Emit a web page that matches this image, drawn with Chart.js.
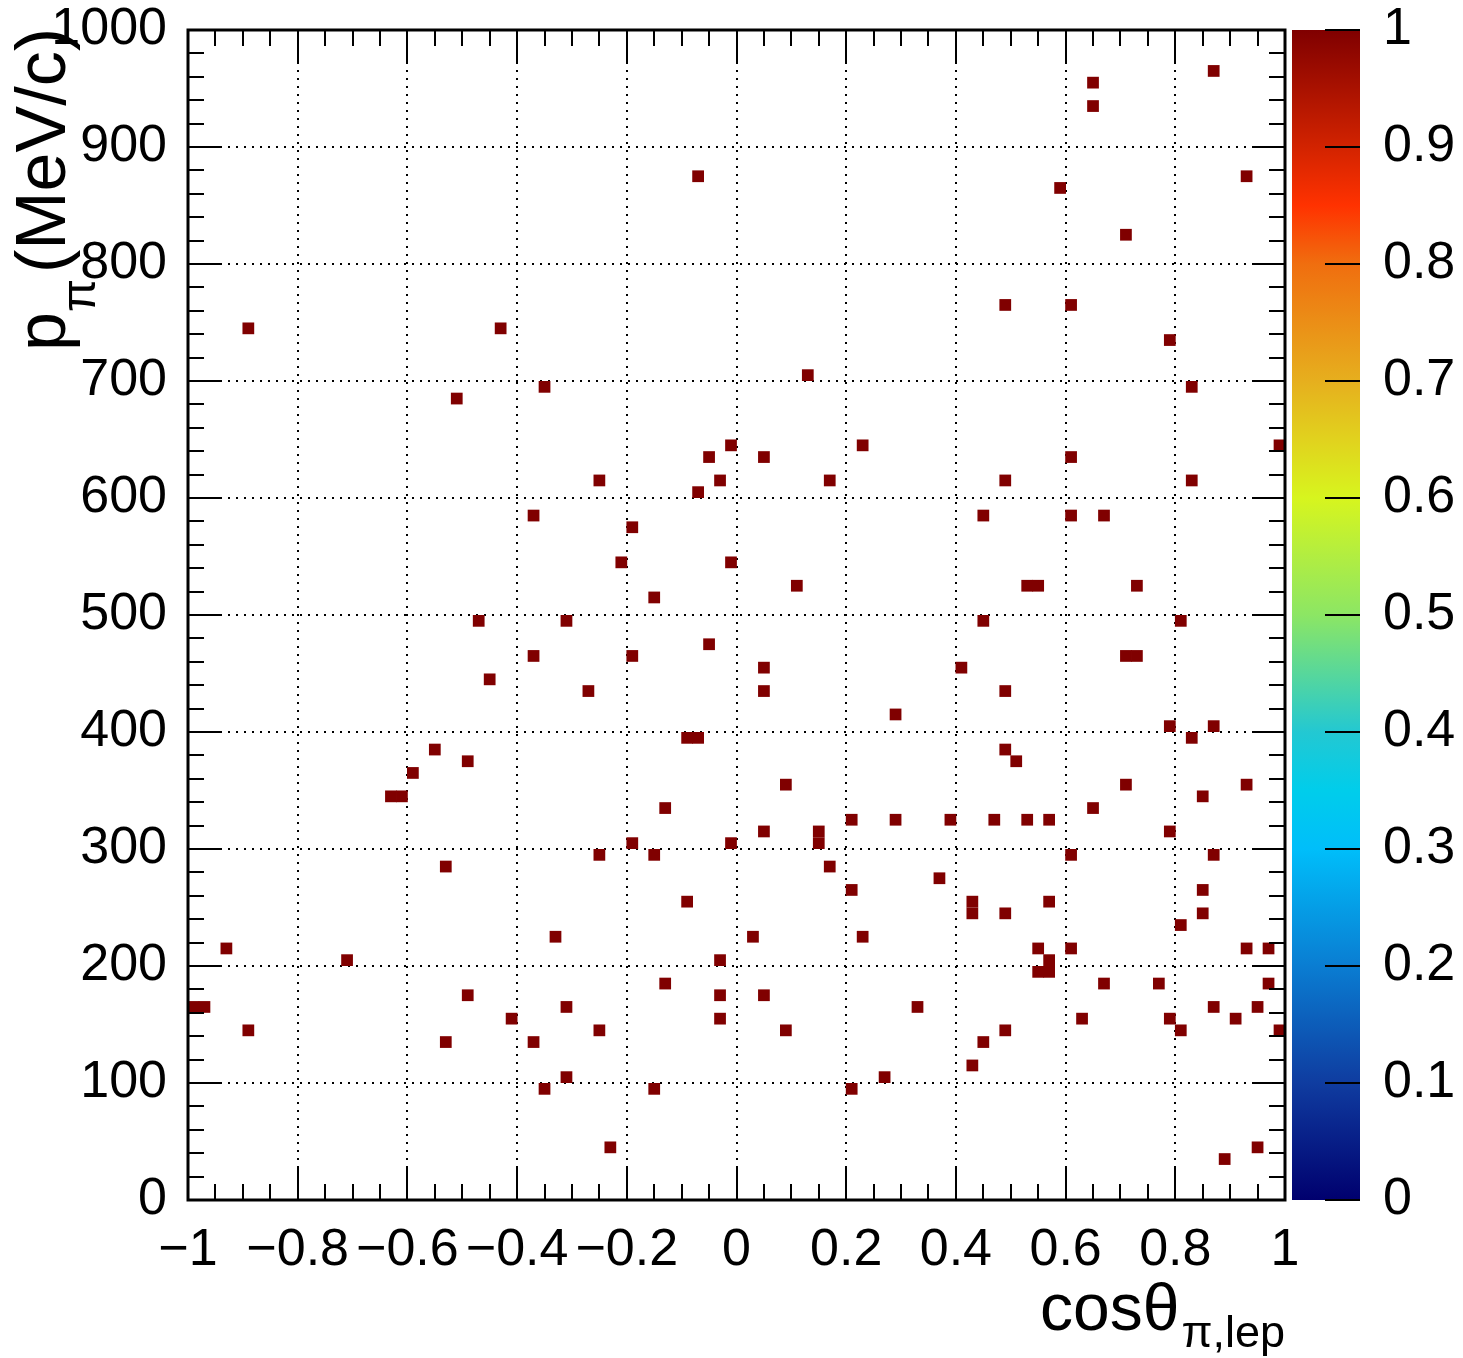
<!DOCTYPE html>
<html>
<head>
<meta charset="utf-8">
<title>p_pi vs cos theta</title>
<script src="https://cdn.jsdelivr.net/npm/chart.js@4.4.1/dist/chart.umd.min.js"></script>
<style>
html,body{margin:0;padding:0;background:#fff;overflow:hidden;}
#wrap{position:relative;width:1463px;height:1358px;}
</style>
</head>
<body>
<div id="wrap"><canvas id="chartHist"></canvas></div>
<script>

/*
==========================================
DATOS (bins llenos, contenido = 1)
==========================================
*/

// centro del bin en p (MeV/c), una fila por valor
const momRows = [
    965, 955, 935, 875, 865, 825, 765, 745, 735, 705,
    695, 685, 645, 635, 615, 605, 585, 575, 545, 525,
    515, 495, 475, 465, 455, 445, 435, 415, 405, 395,
    385, 375, 365, 355, 345, 335, 325, 315, 305, 295,
    285, 275, 265, 255, 245, 235, 225, 215, 205, 195,
    185, 175, 165, 155, 145, 135, 115, 105, 95, 45,
    35
];

// centros de bin en cos(theta) para cada fila
const cosRows = [
    [0.87],
    [0.65],
    [0.65],
    [-0.07, 0.93],
    [0.59],
    [0.71],
    [0.49, 0.61],
    [-0.89, -0.43],
    [0.79],
    [0.13],
    [-0.35, 0.83],
    [-0.51],
    [-0.01, 0.23, 0.99],
    [-0.05, 0.05, 0.61],
    [-0.25, -0.03, 0.17, 0.49, 0.83],
    [-0.07],
    [-0.37, 0.45, 0.61, 0.67],
    [-0.19],
    [-0.21, -0.01],
    [0.11, 0.53, 0.55, 0.73],
    [-0.15],
    [-0.47, -0.31, 0.45, 0.81],
    [-0.05],
    [-0.37, -0.19, 0.71, 0.73],
    [0.05, 0.41],
    [-0.45],
    [-0.27, 0.05, 0.49],
    [0.29],
    [0.79, 0.87],
    [-0.09, -0.07, 0.83],
    [-0.55, 0.49],
    [-0.49, 0.51],
    [-0.59],
    [0.09, 0.71, 0.93],
    [-0.63, -0.61, 0.85],
    [-0.13, 0.65],
    [0.21, 0.29, 0.39, 0.47, 0.53, 0.57],
    [0.05, 0.15, 0.79],
    [-0.19, -0.01, 0.15],
    [-0.25, -0.15, 0.61, 0.87],
    [-0.53, 0.17],
    [0.37],
    [0.21, 0.85],
    [-0.09, 0.43, 0.57],
    [0.43, 0.49, 0.85],
    [0.81],
    [-0.33, 0.03, 0.23],
    [-0.93, 0.55, 0.61, 0.93, 0.97],
    [-0.71, -0.03, 0.57],
    [0.55, 0.57],
    [-0.13, 0.67, 0.77, 0.97],
    [-0.49, -0.03, 0.05],
    [-0.99, -0.97, -0.31, 0.33, 0.87, 0.95],
    [-0.41, -0.03, 0.63, 0.79, 0.91],
    [-0.89, -0.25, 0.09, 0.49, 0.81, 0.99],
    [-0.53, -0.37, 0.45],
    [0.43],
    [-0.31, 0.27],
    [-0.35, -0.15, 0.21],
    [-0.23, 0.95],
    [0.89]
];

const binContent = 1;

// paleta de colores (escala z)
const paletteStops = [0, 0.1, 0.2, 0.3, 0.35, 0.4, 0.5, 0.6, 0.65, 0.7, 0.8, 0.85, 0.9, 1];
const paletteColors = [
    [0, 0, 110],
    [15, 60, 160],
    [10, 125, 210],
    [0, 190, 250],
    [0, 205, 235],
    [35, 200, 210],
    [140, 230, 100],
    [215, 245, 30],
    [225, 210, 30],
    [230, 175, 30],
    [240, 110, 15],
    [255, 50, 0],
    [210, 35, 0],
    [128, 0, 0]
];

const FONT = '"Liberation Sans", Arial, Helvetica, sans-serif';

/*
==========================================
UTILIDADES
==========================================
*/

function paletteColor(z){

    for(let i = 1; i < paletteStops.length; i++){
        if(z <= paletteStops[i]){
            const t = (z - paletteStops[i-1]) / (paletteStops[i] - paletteStops[i-1]);
            const a = paletteColors[i-1];
            const b = paletteColors[i];
            const c = a.map((v, k) => Math.round(v + (b[k] - v) * t));
            return "rgb(" + c.join(",") + ")";
        }
    }

    return "rgb(" + paletteColors[paletteColors.length-1].join(",") + ")";

}

function fmtTick(v){
    const r = Math.round(v * 10) / 10;
    return String(r).replace("-", "\u2212");
}

function buildPoints(){

    const pts = [];

    momRows.forEach((p, i) => {
        cosRows[i].forEach(c => pts.push({x:c, y:p}));
    });

    return pts;

}

// sin relleno extra alrededor de los ejes (el marco lo fija el layout)
function noPadV(s, w){
    s.width = w;
    s.paddingTop = 0;
    s.paddingBottom = 0;
}

function noPadH(s, h){
    s.height = h;
    s.paddingLeft = 0;
    s.paddingRight = 0;
}

/*
==========================================
PLUGIN: MARCO, TICKS, PALETA Y TITULOS
==========================================
*/

const rootFrame = {

    id:"rootFrame",

    afterDatasetsDraw(chart){

        const {ctx, chartArea:a, scales} = chart;

        ctx.save();
        ctx.strokeStyle = "#000";
        ctx.lineWidth = 2;
        ctx.beginPath();

        // ticks en x (abajo y arriba)
        for(let i = 0; i <= 40; i++){
            const px = Math.round(scales.x.getPixelForValue(-1 + i * 0.05));
            const len = (i % 4 === 0) ? 33 : 16;
            ctx.moveTo(px, a.bottom); ctx.lineTo(px, a.bottom - len);
            ctx.moveTo(px, a.top); ctx.lineTo(px, a.top + len);
        }

        // ticks en y (izquierda y derecha)
        for(let i = 0; i <= 50; i++){
            const py = Math.round(scales.y.getPixelForValue(i * 20));
            const len = (i % 5 === 0) ? 33 : 16;
            ctx.moveTo(a.left, py); ctx.lineTo(a.left + len, py);
            ctx.moveTo(a.right, py); ctx.lineTo(a.right - len, py);
        }

        ctx.stroke();

        ctx.lineWidth = 3;
        ctx.strokeRect(a.left, a.top, a.right - a.left, a.bottom - a.top);

        ctx.restore();

    },

    afterDraw(chart){

        const {ctx, chartArea:a, scales} = chart;
        const z = scales.z;

        // barra de colores
        const x0 = a.right + 7;
        const x1 = a.right + 75;
        const yTop = z.getPixelForValue(1);
        const yBot = z.getPixelForValue(0);

        const grad = ctx.createLinearGradient(0, yBot, 0, yTop);
        paletteStops.forEach(s => grad.addColorStop(s, paletteColor(s)));

        ctx.save();
        ctx.fillStyle = grad;
        ctx.fillRect(x0, yTop, x1 - x0, yBot - yTop);

        ctx.strokeStyle = "#000";
        ctx.lineWidth = 2;
        ctx.beginPath();
        for(let i = 0; i <= 10; i++){
            const py = Math.round(z.getPixelForValue(i / 10));
            ctx.moveTo(x1, py); ctx.lineTo(x1 - 35, py);
        }
        ctx.stroke();

        ctx.fillStyle = "#000";
        ctx.textBaseline = "alphabetic";
        ctx.textAlign = "left";

        // titulo eje y:  p_pi (MeV/c)
        const bigY = "70px " + FONT;
        const smallY = "48px " + FONT;

        ctx.font = bigY;
        const wP = ctx.measureText("p").width;
        const wRest = ctx.measureText("(MeV/c)").width;
        ctx.font = smallY;
        const wPi = ctx.measureText("\u03c0").width;
        const gap = 6;
        const total = wP + wPi + gap + wRest;

        ctx.save();
        ctx.translate(65, a.top - 2 + total);
        ctx.rotate(-Math.PI / 2);
        ctx.font = bigY;
        ctx.fillText("p", 0, 0);
        ctx.font = smallY;
        ctx.fillText("\u03c0", wP, 30);
        ctx.font = bigY;
        ctx.fillText("(MeV/c)", wP + wPi + gap, 0);
        ctx.restore();

        // titulo eje x:  cos theta_{pi,lep}
        const bigX = "66px " + FONT;
        const smallX = "45px " + FONT;

        ctx.font = bigX;
        const wMain = ctx.measureText("cos\u03b8").width;
        ctx.font = smallX;
        const wSub = ctx.measureText("\u03c0,lep").width;
        const xs = a.right - wSub - wMain - 2;

        ctx.font = bigX;
        ctx.fillText("cos\u03b8", xs, 1330);
        ctx.font = smallX;
        ctx.fillText("\u03c0,lep", xs + wMain + 2, 1347);

        ctx.restore();

    }

};

/*
==========================================
RENDER
==========================================
*/

let chartHist = null;

function renderHist(){

    const canvas = document.getElementById("chartHist");

    if(!canvas) return;

    const tickFont = {family:FONT, size:52, lineHeight:1};

    chartHist = new Chart(canvas, {

        type:"scatter",

        data:{
            datasets:[{
                data:buildPoints(),
                pointStyle:"rect",
                radius:8.3,
                hoverRadius:8.3,
                borderWidth:0,
                backgroundColor:paletteColor(binContent),
                borderColor:paletteColor(binContent)
            }]
        },

        options:{

            responsive:true,
            maintainAspectRatio:false,
            animation:false,
            events:[],

            layout:{
                padding:{top:30, left:0, right:0, bottom:0}
            },

            plugins:{
                legend:{display:false},
                tooltip:{enabled:false}
            },

            scales:{

                x:{
                    type:"linear",
                    min:-1,
                    max:1,
                    afterFit(s){ noPadH(s, 158); },
                    ticks:{
                        stepSize:0.2,
                        padding:25,
                        color:"#000",
                        font:tickFont,
                        maxRotation:0,
                        autoSkip:false,
                        callback:v => fmtTick(v)
                    },
                    grid:{color:"#000", lineWidth:2, drawTicks:false},
                    border:{display:false, dash:[2, 6]}
                },

                y:{
                    type:"linear",
                    min:0,
                    max:1000,
                    afterFit(s){ noPadV(s, 188); },
                    ticks:{
                        stepSize:100,
                        padding:21,
                        color:"#000",
                        font:tickFont,
                        autoSkip:false,
                        callback:v => String(Math.round(v))
                    },
                    grid:{color:"#000", lineWidth:2, drawTicks:false},
                    border:{display:false, dash:[2, 6]}
                },

                z:{
                    type:"linear",
                    position:"right",
                    min:0,
                    max:1,
                    afterFit(s){ noPadV(s, 178); },
                    ticks:{
                        stepSize:0.1,
                        padding:98,
                        color:"#000",
                        font:tickFont,
                        autoSkip:false,
                        callback:v => fmtTick(v)
                    },
                    grid:{display:false, drawTicks:false},
                    border:{display:false}
                }

            }

        },

        plugins:[rootFrame]

    });

}

renderHist();

</script>
</body>
</html>
